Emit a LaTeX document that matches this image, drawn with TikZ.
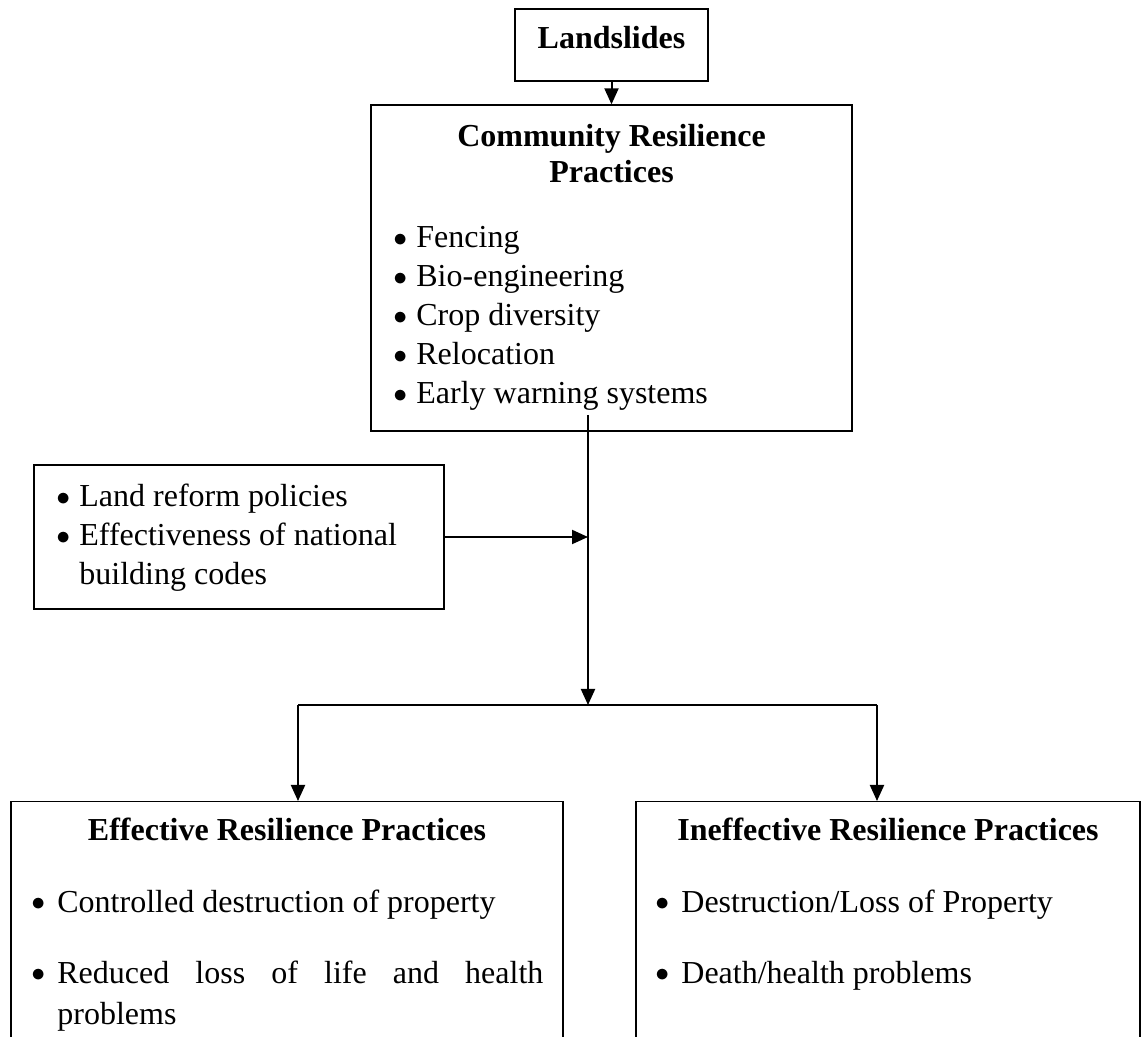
\documentclass[tikz,border=0pt]{standalone}
\usepackage{graphicx}
\usepackage{fontspec}
\setmainfont{Liberation Serif}
\usetikzlibrary{arrows.meta,positioning}
\newcommand{\itm}[2][11.5pt]{\makebox[#1][l]{\raisebox{0.6pt}{\scalebox{0.8}{$\bullet$}}}#2}

\begin{document}
\begin{tikzpicture}[x=0.5pt,y=-0.5pt,
  every node/.style={font=\fontsize{16}{19.5}\selectfont,inner sep=0pt},
  box/.style={draw,line width=0.65pt,inner sep=0pt},
  head/.style={font=\fontsize{16}{19.5}\selectfont\bfseries,anchor=base},
  item/.style={anchor=base west},
  arr/.style={line width=1pt,-{Triangle[length=8pt,width=7pt]}}]
\useasboundingbox (0,0) rectangle (1142,1037);
\clip (0,0) rectangle (1142,1037);
% top boxes
\node[box,minimum width=96.5pt,minimum height=36pt] (land) at (611.5,45) {};
\node[head] (landt) at (611.5,49) {Landslides};
\node[box,minimum width=240.5pt,minimum height=163pt] (crp) at (611.5,268) {};
\node[head] (crpt1) at (611.5,147) {Community Resilience};
\node[head] (crpt2) at (611.5,183) {Practices};
\node[item] (c1) at (393,248) {\itm{Fencing}};
\node[item] (c2) at (393,287) {\itm{Bio-engineering}};
\node[item] (c3) at (393,326) {\itm{Crop diversity}};
\node[item] (c4) at (393,365) {\itm{Relocation}};
\node[item] (c5) at (393,404) {\itm{Early warning systems}};
% side box
\node[box,minimum width=205pt,minimum height=72pt] (side) at (239,537) {};
\node[item] (s1) at (56,507) {\itm{Land reform policies}};
\node[item] (s2) at (56,546) {\itm{Effectiveness of national}};
\node[item] (s3) at (79,585) {building codes};
% bottom boxes
\node[box,minimum width=276pt,minimum height=125pt,anchor=north] (eff) at (287,801) {};
\node[head] (efft) at (287,841) {Effective Resilience Practices};
\node[item] (e1) at (31,912) {\itm[13pt]{Controlled destruction of property}};
\node[item] (e2) at (31,983) {\itm[13pt]{\makebox[243pt][s]{Reduced loss of life and health}}};
\node[item] (e3) at (57,1024) {problems};
\node[box,minimum width=252pt,minimum height=125pt,anchor=north] (ineff) at (888,801) {};
\node[head] (inefft) at (888,841) {Ineffective Resilience Practices};
\node[item] (i1) at (655,912) {\itm[13pt]{Destruction/Loss of Property}};
\node[item] (i2) at (655,983) {\itm[13pt]{Death/health problems}};
% connectors
\coordinate (top) at (588,415);
\coordinate (fork) at (588,705);
\coordinate (fl) at (298,705);
\coordinate (fr) at (877,705);
\draw[arr] (land) -- (crp);
\draw[arr] (top) -- (fork);
\draw[arr] (side) -- (side -| top);
\draw[line width=1pt] (fl) -- (fr);
\draw[arr] (fl) -- (fl |- eff.north);
\draw[arr] (fr) -- (fr |- ineff.north);
\end{tikzpicture}
\end{document}
